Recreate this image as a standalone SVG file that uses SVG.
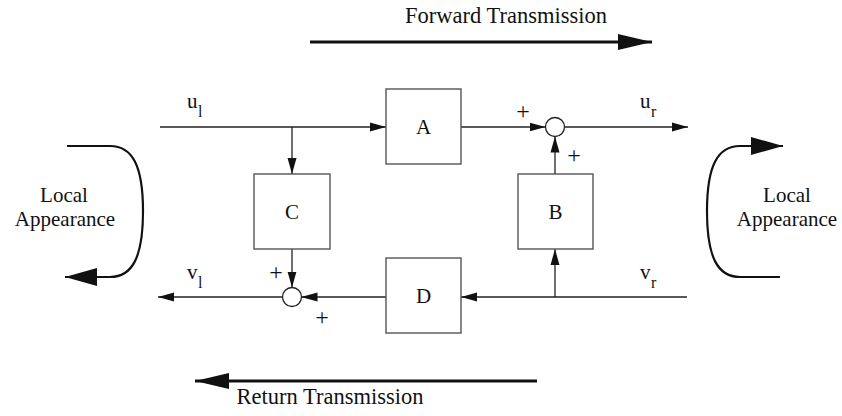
<svg xmlns="http://www.w3.org/2000/svg" width="842" height="416" viewBox="0 0 842 416">
  <style>
    .t { font-family: "Liberation Serif", "Times New Roman", serif; fill: #111; }
    .lbl { font-size: 21px; }
    .big { font-size: 22.5px; }
    .sym { font-size: 24px; }
    .sub { font-size: 16px; }
    .box { fill: #fff; stroke: #555; stroke-width: 1.4; }
    .sum { fill: #fff; stroke: #222; stroke-width: 1.3; }
    .wire { fill: none; stroke: #222; stroke-width: 1.3; }
    .thick { fill: none; stroke: #111; stroke-width: 3; }
    .curve { fill: none; stroke: #111; stroke-width: 2.2; }
  </style>
  <defs>
    <marker id="ah" markerUnits="userSpaceOnUse" markerWidth="16" markerHeight="12" refX="16" refY="6" orient="auto">
      <path d="M0,1.5 L16,6 L0,10.5 Z" fill="#111"/>
    </marker>
    <marker id="bigah" markerUnits="userSpaceOnUse" markerWidth="34" markerHeight="16" refX="34" refY="8" orient="auto">
      <path d="M0,0 L34,8 L0,16 Z" fill="#111"/>
    </marker>
    <marker id="curveah" markerUnits="userSpaceOnUse" markerWidth="32" markerHeight="18" refX="32" refY="9" orient="auto">
      <path d="M0,0 L32,9 L0,18 Z" fill="#111"/>
    </marker>
  </defs>

  <!-- direction indicators -->
  <text class="t big" x="506" y="23" text-anchor="middle">Forward Transmission</text>
  <line class="thick" x1="310" y1="42" x2="652" y2="42" marker-end="url(#bigah)"/>
  <line class="thick" x1="537" y1="381" x2="195" y2="381" marker-end="url(#bigah)"/>
  <text class="t big" x="330" y="404" text-anchor="middle">Return Transmission</text>

  <!-- connectors -->
  <g id="connectors">
    <line class="wire" x1="160" y1="127" x2="386" y2="127" marker-end="url(#ah)"/>
    <line class="wire" x1="292" y1="127" x2="292" y2="174" marker-end="url(#ah)"/>
    <line class="wire" x1="461" y1="127" x2="545.5" y2="127" marker-end="url(#ah)"/>
    <line class="wire" x1="564.5" y1="127" x2="688" y2="127" marker-end="url(#ah)"/>
    <line class="wire" x1="555" y1="174" x2="555" y2="136.5" marker-end="url(#ah)"/>
    <line class="wire" x1="687" y1="297" x2="461" y2="297" marker-end="url(#ah)"/>
    <line class="wire" x1="555" y1="297" x2="555" y2="249" marker-end="url(#ah)"/>
    <line class="wire" x1="386" y1="297" x2="301.5" y2="297" marker-end="url(#ah)"/>
    <line class="wire" x1="292" y1="249" x2="292" y2="287.5" marker-end="url(#ah)"/>
    <line class="wire" x1="282.5" y1="297" x2="158" y2="297" marker-end="url(#ah)"/>
    <!-- local appearance loops -->
    <path class="curve" d="M67,146 L110,146 C132,146 143,165 143,211 C143,258 132,277 110,277 L65,277" marker-end="url(#curveah)"/>
    <path class="curve" d="M780,277 L740,277 C718,277 707,258 707,211 C707,165 718,146 740,146 L783,146" marker-end="url(#curveah)"/>
  </g>

  <!-- signal labels -->
  <g id="labels">
    <text class="t lbl" x="187" y="108">u</text><text class="t sub" x="198" y="117">l</text>
    <text class="t lbl" x="640" y="108">u</text><text class="t sub" x="651" y="117">r</text>
    <text class="t lbl" x="187" y="279">v</text><text class="t sub" x="198" y="288">l</text>
    <text class="t lbl" x="640" y="279">v</text><text class="t sub" x="651" y="288">r</text>
    <text class="t sym" x="523" y="119" text-anchor="middle">+</text>
    <text class="t sym" x="574" y="163" text-anchor="middle">+</text>
    <text class="t sym" x="276" y="280" text-anchor="middle">+</text>
    <text class="t sym" x="322" y="325" text-anchor="middle">+</text>
    <text class="t lbl" x="64" y="202" text-anchor="middle">Local</text>
    <text class="t lbl" x="65" y="226" text-anchor="middle">Appearance</text>
    <text class="t lbl" x="787" y="202" text-anchor="middle">Local</text>
    <text class="t lbl" x="787" y="226" text-anchor="middle">Appearance</text>
  </g>

  <!-- blocks -->
  <g id="A"><rect class="box" x="386" y="89" width="75" height="75"/><text class="t lbl" x="423.5" y="134" text-anchor="middle">A</text></g>
  <g id="B"><rect class="box" x="518" y="174" width="75" height="75"/><text class="t lbl" x="555.5" y="219" text-anchor="middle">B</text></g>
  <g id="C"><rect class="box" x="254" y="174" width="76" height="75"/><text class="t lbl" x="292" y="219" text-anchor="middle">C</text></g>
  <g id="D"><rect class="box" x="386" y="258" width="75" height="75"/><text class="t lbl" x="423.5" y="303" text-anchor="middle">D</text></g>

  <!-- summing junctions -->
  <g id="sumTop"><circle class="sum" cx="555" cy="127" r="9.5"/></g>
  <g id="sumBottom"><circle class="sum" cx="292" cy="297" r="9.5"/></g>
</svg>
